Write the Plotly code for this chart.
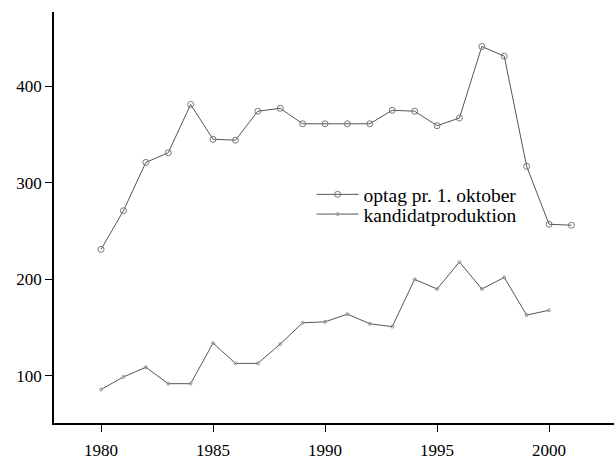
import plotly.graph_objects as go

years_optag = list(range(1980, 2002))
optag = [231, 271, 321, 331, 381, 345, 344, 374, 377, 361, 361, 361, 361, 375, 374, 359, 367, 441, 431, 317, 257, 256]

years_kand = list(range(1980, 2001))
kandidat = [86, 99, 109, 92, 92, 134, 113, 113, 133, 155, 156, 164, 154, 151, 200, 190, 218, 190, 202, 163, 168]

xtick_vals = [1980, 1985, 1990, 1995, 2000]
ytick_vals = [100, 200, 300, 400]

font_family = "Liberation Serif, Times New Roman, serif"

fig = go.Figure()
fig.add_trace(go.Scatter(
    x=years_optag, y=optag, mode="lines+markers", name="optag pr. 1. oktober",
    line=dict(color="#555555", width=1),
    marker=dict(symbol="circle-open", size=6, color="#777777", line=dict(width=1)),
    legend="legend",
))
fig.add_trace(go.Scatter(
    x=years_kand, y=kandidat, mode="lines+markers", name="kandidatproduktion",
    line=dict(color="#555555", width=1),
    marker=dict(symbol="circle-open", size=3, color="#999999", line=dict(width=1)),
    legend="legend2",
))

leg_common = dict(xanchor="left", yanchor="top", bgcolor="rgba(0,0,0,0)",
                  font=dict(size=19.5), itemwidth=42)

fig.update_layout(
    width=614, height=459,
    margin=dict(l=54, r=0, t=12, b=36),
    paper_bgcolor="white", plot_bgcolor="white",
    font=dict(family=font_family, size=17, color="black"),
    showlegend=True,
    legend=dict(x=0.46, y=0.603, **leg_common),
    legend2=dict(x=0.46, y=0.555, **leg_common),
    xaxis=dict(range=[1977.9, 2002.9], tickvals=xtick_vals, showgrid=False, zeroline=False,
               showline=True, linecolor="black", linewidth=1.5, ticks="outside",
               ticklen=7, tickwidth=1, tickcolor="black", automargin=False,
               tickfont=dict(size=17), ticklabelstandoff=4),
    yaxis=dict(range=[51.3, 476.7], tickvals=ytick_vals, showgrid=False, zeroline=False,
               showline=True, linecolor="black", linewidth=1.5, ticks="outside",
               ticklen=7, tickwidth=1, tickcolor="black", automargin=False,
               tickfont=dict(size=17)),
)

fig.write_html("out.html", post_script="document.body.style.margin='0px';",
               config={"displayModeBar": False})
